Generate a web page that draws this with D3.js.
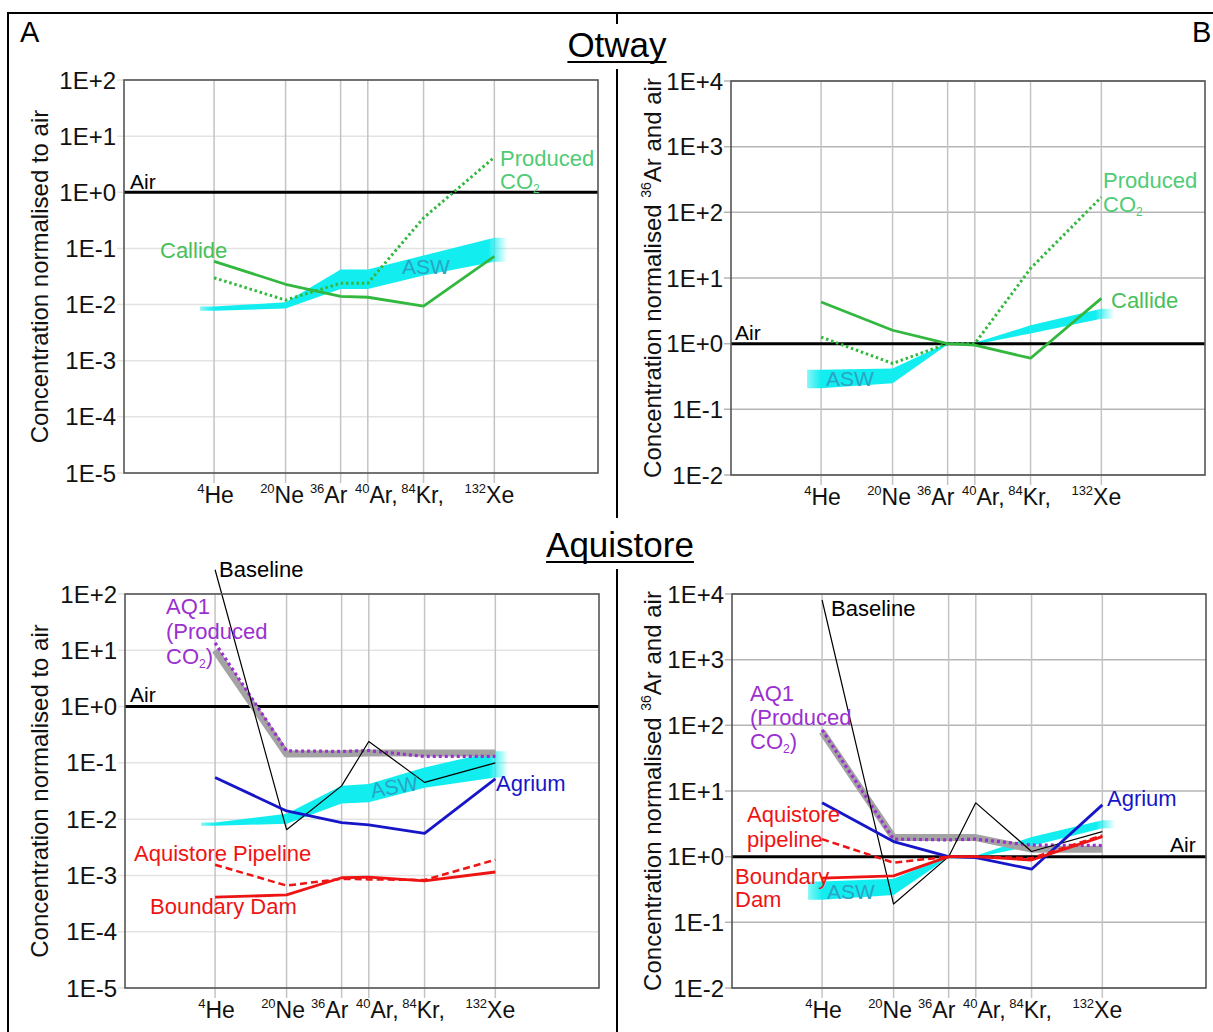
<!DOCTYPE html>
<html><head><meta charset="utf-8">
<script src="https://cdn.jsdelivr.net/npm/d3@7"></script>
<style>
body{margin:0;background:#fff}
svg{display:block}
text{font-family:"Liberation Sans",Arial,Helvetica,sans-serif}
</style>
</head><body>
<svg id="c" width="1213" height="1032"></svg>
<script>
// ---------- categories & ticks ----------
const categories = ["4He","20Ne","36Ar","40Ar","84Kr","132Xe"];
const tickSup = ["4","20","36","40","84","132"];
const tickMain = ["He","Ne","Ar","Ar,","Kr,","Xe"];
const yTicksAir = [1e2,1e1,1e0,1e-1,1e-2,1e-3,1e-4,1e-5];
const yLabelsAir = ["1E+2","1E+1","1E+0","1E-1","1E-2","1E-3","1E-4","1E-5"];
const yTicks36 = [1e4,1e3,1e2,1e1,1e0,1e-1,1e-2];
const yLabels36 = ["1E+4","1E+3","1E+2","1E+1","1E+0","1E-1","1E-2"];

// ---------- Otway, normalised to air ----------
const otwayAirCallide  = [0.059, 0.023, 0.014, 0.0135, 0.0094, 0.072];
const otwayAirProduced = [0.030, 0.012, 0.024, 0.024, 0.35, 4.2];
const otwayAirAswTop    = [0.0092, 0.011, 0.042, 0.042, 0.075, 0.155];
const otwayAirAswBottom = [0.0078, 0.0085, 0.019, 0.019, 0.033, 0.058];

// ---------- Otway, normalised to 36Ar and air ----------
const otway36Callide  = [4.3, 1.6, 1.0, 0.95, 0.6, 4.9];
const otway36Produced = [1.26, 0.5, 1.0, 1.0, 14, 170];
const otway36AswTop    = [0.40, 0.42, 1.03, 1.03, 1.9, 3.4];
const otway36AswBottom = [0.21, 0.25, 0.97, 0.97, 1.43, 2.4];

// ---------- Aquistore, normalised to air ----------
const aquiAirBaseline = [270, 0.0065, 0.039, 0.24, 0.045, 0.10];
const aquiAirAQ1      = [13.5, 0.163, 0.16, 0.165, 0.13, 0.13];
const aquiAirAQ1Band  = [10, 0.143, 0.145, 0.15, 0.15, 0.15];
const aquiAirAgrium   = [0.055, 0.014, 0.0087, 0.0079, 0.0056, 0.052];
const aquiAirPipeline = [0.00155, 0.00066, 0.00087, 0.00085, 0.00083, 0.0019];
const aquiAirBoundary = [0.00041, 0.00045, 0.00091, 0.00093, 0.0008, 0.00115];
const aquiAirAswTop    = [0.0087, 0.0125, 0.039, 0.042, 0.083, 0.16];
const aquiAirAswBottom = [0.0076, 0.0083, 0.019, 0.020, 0.036, 0.055];

// ---------- Aquistore, normalised to 36Ar and air ----------
const aqui36Baseline = [8100, 0.19, 1.0, 6.6, 1.2, 2.4];
const aqui36AQ1      = [85, 1.85, 1.8, 1.85, 1.5, 1.48];
const aqui36AQ1Band  = [80, 1.95, 1.95, 1.95, 1.3, 1.3];
const aqui36Agrium   = [6.6, 1.7, 1.0, 0.97, 0.645, 6.15];
const aqui36Pipeline = [1.85, 0.81, 1.0, 1.0, 0.95, 2.1];
const aqui36Boundary = [0.47, 0.51, 1.0, 1.0, 0.89, 2.02];
const aqui36AswTop    = [0.42, 0.46, 1.03, 1.03, 2.0, 3.6];
const aqui36AswBottom = [0.22, 0.26, 0.97, 0.97, 1.45, 2.7];

// ---------- layout / style ----------
const catSlot = [0, 1, 1.77, 2.15, 2.93, 3.92];
const labelDx = [1.5, -3.5, -12, 8.5, -1, -5];
const C = {
  green: "#33b83f", greenTxt: "#47c05a", prodTxt: "#4fcb75",
  cyan: "#12eef0", aswTxt: "#2ba3c6",
  purple: "#9b30d0", gray: "#a3a3a3", blue: "#1616c8", red: "#ee1414"
};

const svg = d3.select("#c");
const defs = svg.append("defs");

function multiText(g, x, y, parts, color, size, anchor) {
  const t = g.append("text").attr("x", x).attr("y", y)
    .attr("fill", color).attr("font-size", size)
    .attr("text-anchor", anchor || "start");
  let shift = 0;
  parts.forEach(p => {
    if (typeof p === "string") {
      t.append("tspan").attr("dy", shift ? -shift : null).text(p);
      shift = 0;
    } else if (p.sub) {
      t.append("tspan").attr("font-size", size * 0.55).attr("dy", 4).text(p.sub);
      shift = 4;
    }
  });
  return t;
}

function panel(cfg, idx) {
  const g = svg.append("g");
  const x = d3.scaleLinear().domain([-1.26, 5.37]).range([cfg.left, cfg.left + cfg.w]);
  const y = d3.scaleLog().domain(cfg.domain).range([cfg.top + cfg.h, cfg.top]);
  const cx = i => x(catSlot[i]);

  // horizontal grid
  g.append("g").selectAll("line").data(cfg.ticks).join("line")
    .attr("x1", cfg.left - 7).attr("x2", cfg.left + cfg.w)
    .attr("y1", d => y(d)).attr("y2", d => y(d))
    .attr("stroke", cfg.gridColor).attr("stroke-width", 1.5);
  // vertical grid
  g.append("g").selectAll("line").data(categories).join("line")
    .attr("x1", (d, i) => cx(i)).attr("x2", (d, i) => cx(i))
    .attr("y1", cfg.top).attr("y2", cfg.top + cfg.h + 10)
    .attr("stroke", "#c4c4c4").attr("stroke-width", 1.5);

  // y tick labels
  g.append("g").selectAll("text").data(cfg.ticks).join("text")
    .attr("x", cfg.left - 8).attr("y", d => y(d)).attr("dy", "0.36em")
    .attr("text-anchor", "end").attr("font-size", 24).attr("fill", "#111")
    .text((d, i) => cfg.tickLabels[i]);

  // x labels
  const xl = g.append("g").selectAll("text").data(categories).join("text")
    .attr("x", (d, i) => cx(i) + labelDx[i]).attr("y", cfg.top + cfg.h + 30)
    .attr("text-anchor", "middle").attr("fill", "#111");
  xl.append("tspan").attr("font-size", 13).attr("dy", -10).text((d, i) => tickSup[i]);
  xl.append("tspan").attr("font-size", 23).attr("dy", 10).text((d, i) => tickMain[i]);

  // y axis title
  const yt = g.append("text")
    .attr("transform", `translate(${cfg.titleX},${cfg.top + cfg.h / 2}) rotate(-90)`)
    .attr("text-anchor", "middle").attr("dy", "0.35em")
    .attr("font-size", 24).attr("fill", "#111");
  if (cfg.titleSup) {
    yt.append("tspan").text("Concentration normalised ");
    yt.append("tspan").attr("font-size", 14).attr("dy", -10).text("36");
    yt.append("tspan").attr("dy", 10).text("Ar and air");
  } else {
    yt.text("Concentration normalised to air");
  }

  // ASW band
  const gid = "fade" + idx;
  const x0 = cx(0) - 14, x1 = cx(5) + 13;
  const grad = defs.append("linearGradient").attr("id", gid)
    .attr("gradientUnits", "userSpaceOnUse")
    .attr("x1", x0).attr("x2", x1).attr("y1", 0).attr("y2", 0);
  const span = x1 - x0;
  grad.append("stop").attr("offset", 0).attr("stop-color", C.cyan).attr("stop-opacity", 0.5);
  grad.append("stop").attr("offset", (cx(0) - x0) / span).attr("stop-color", C.cyan).attr("stop-opacity", 1);
  grad.append("stop").attr("offset", (cx(5) - 6 - x0) / span).attr("stop-color", C.cyan).attr("stop-opacity", 1);
  grad.append("stop").attr("offset", 1).attr("stop-color", C.cyan).attr("stop-opacity", 0);
  const bandPts = cfg.aswTop.map((t, i) => ({ x: cx(i), t, b: cfg.aswBottom[i] }));
  bandPts.unshift({ x: x0, t: cfg.aswTop[0], b: cfg.aswBottom[0] });
  bandPts.push({ x: x1, t: cfg.aswTop[5], b: cfg.aswBottom[5] });
  g.append("path").datum(bandPts)
    .attr("d", d3.area().x(d => d.x).y0(d => y(d.b)).y1(d => y(d.t)))
    .attr("fill", `url(#${gid})`);

  // air line
  g.append("line").attr("x1", cfg.left).attr("x2", cfg.left + cfg.w)
    .attr("y1", y(1)).attr("y2", y(1)).attr("stroke", "#000").attr("stroke-width", 3);

  // series
  const line = d3.line().x((d, i) => cx(i)).y(d => y(d));
  cfg.series.forEach(s => {
    g.append("path").datum(s.values).attr("d", line)
      .attr("fill", "none").attr("stroke", s.color).attr("stroke-width", s.width)
      .attr("stroke-dasharray", s.dash || null)
      .attr("stroke-linejoin", "round");
  });

  // frame
  g.append("rect").attr("x", cfg.left).attr("y", cfg.top)
    .attr("width", cfg.w).attr("height", cfg.h)
    .attr("fill", "none").attr("stroke", "#555").attr("stroke-width", 1.6);

  // annotations
  cfg.notes.forEach(n => {
    const t = multiText(g, n.x, n.y, n.parts, n.color, n.size || 22, n.anchor);
    if (n.rot) t.attr("transform", `rotate(${n.rot},${n.x},${n.y})`);
  });
}

const panels = [
  { left: 124, top: 80, w: 474, h: 393, domain: [1e-5, 1e2], ticks: yTicksAir, tickLabels: yLabelsAir,
    gridColor: "#e3e3e3", titleX: 40, titleSup: false,
    aswTop: otwayAirAswTop, aswBottom: otwayAirAswBottom,
    series: [
      { values: otwayAirProduced, color: C.green, width: 3, dash: "2.5,2.8" },
      { values: otwayAirCallide, color: C.green, width: 2.8 }
    ],
    notes: [
      { parts: ["Air"], x: 130, y: 189, color: "#000", size: 21 },
      { parts: ["Callide"], x: 160, y: 258, color: C.greenTxt },
      { parts: ["Produced"], x: 500, y: 166, color: C.prodTxt },
      { parts: ["CO", { sub: "2" }], x: 500, y: 189, color: C.prodTxt },
      { parts: ["ASW"], x: 402, y: 274, color: C.aswTxt, size: 21 }
    ] },
  { left: 731, top: 81, w: 474, h: 394, domain: [1e-2, 1e4], ticks: yTicks36, tickLabels: yLabels36,
    gridColor: "#b5b5b5", titleX: 653, titleSup: true,
    aswTop: otway36AswTop, aswBottom: otway36AswBottom,
    series: [
      { values: otway36Produced, color: C.green, width: 3, dash: "2.5,2.8" },
      { values: otway36Callide, color: C.green, width: 2.8 }
    ],
    notes: [
      { parts: ["Air"], x: 735, y: 340, color: "#000", size: 21 },
      { parts: ["Produced"], x: 1103, y: 188, color: C.prodTxt },
      { parts: ["CO", { sub: "2" }], x: 1103, y: 212, color: C.prodTxt },
      { parts: ["Callide"], x: 1111, y: 308, color: C.greenTxt },
      { parts: ["ASW"], x: 826, y: 386, color: C.aswTxt, size: 21 }
    ] },
  { left: 125, top: 594, w: 474, h: 394, domain: [1e-5, 1e2], ticks: yTicksAir, tickLabels: yLabelsAir,
    gridColor: "#e3e3e3", titleX: 40, titleSup: false,
    aswTop: aquiAirAswTop, aswBottom: aquiAirAswBottom,
    series: [
      { values: aquiAirAQ1Band, color: C.gray, width: 7 },
      { values: aquiAirAQ1, color: C.purple, width: 3.2, dash: "3,3" },
      { values: aquiAirBaseline, color: "#000", width: 1.2 },
      { values: aquiAirAgrium, color: C.blue, width: 2.8 },
      { values: aquiAirPipeline, color: C.red, width: 2.5, dash: "7,4" },
      { values: aquiAirBoundary, color: C.red, width: 2.8 }
    ],
    notes: [
      { parts: ["Baseline"], x: 219, y: 577, color: "#000" },
      { parts: ["AQ1"], x: 166, y: 614, color: C.purple },
      { parts: ["(Produced"], x: 166, y: 639, color: C.purple },
      { parts: ["CO", { sub: "2" }, ")"], x: 166, y: 664, color: C.purple },
      { parts: ["Air"], x: 130, y: 702, color: "#000", size: 21 },
      { parts: ["ASW"], x: 372, y: 798, color: C.aswTxt, size: 21, rot: -10 },
      { parts: ["Agrium"], x: 496, y: 791, color: C.blue },
      { parts: ["Aquistore Pipeline"], x: 134, y: 861, color: C.red },
      { parts: ["Boundary Dam"], x: 150, y: 914, color: C.red }
    ] },
  { left: 732, top: 594, w: 474, h: 394, domain: [1e-2, 1e4], ticks: yTicks36, tickLabels: yLabels36,
    gridColor: "#b5b5b5", titleX: 653, titleSup: true,
    aswTop: aqui36AswTop, aswBottom: aqui36AswBottom,
    series: [
      { values: aqui36AQ1Band, color: C.gray, width: 7 },
      { values: aqui36AQ1, color: C.purple, width: 3.2, dash: "3,3" },
      { values: aqui36Baseline, color: "#000", width: 1.2 },
      { values: aqui36Agrium, color: C.blue, width: 2.8 },
      { values: aqui36Pipeline, color: C.red, width: 2.5, dash: "7,4" },
      { values: aqui36Boundary, color: C.red, width: 2.8 }
    ],
    notes: [
      { parts: ["Baseline"], x: 831, y: 616, color: "#000" },
      { parts: ["AQ1"], x: 750, y: 701, color: C.purple },
      { parts: ["(Produced"], x: 750, y: 725, color: C.purple },
      { parts: ["CO", { sub: "2" }, ")"], x: 750, y: 749, color: C.purple },
      { parts: ["Agrium"], x: 1107, y: 806, color: C.blue },
      { parts: ["Aquistore"], x: 747, y: 822, color: C.red },
      { parts: ["pipeline"], x: 747, y: 847, color: C.red },
      { parts: ["Boundary"], x: 735, y: 884, color: C.red },
      { parts: ["Dam"], x: 735, y: 907, color: C.red },
      { parts: ["ASW"], x: 827, y: 899, color: C.aswTxt, size: 21 },
      { parts: ["Air"], x: 1170, y: 852, color: "#000", size: 21 }
    ] }
];

// outer frame & dividers
svg.append("path").attr("d", "M8,1032 V13 H1213").attr("fill", "none")
  .attr("stroke", "#000").attr("stroke-width", 2);
[[13, 24], [69, 518], [569, 1032]].forEach(s =>
  svg.append("line").attr("x1", 617).attr("x2", 617).attr("y1", s[0]).attr("y2", s[1])
    .attr("stroke", "#000").attr("stroke-width", 2));

panels.forEach((p, i) => panel(p, i));

// panel letters and section titles
svg.append("text").attr("x", 20).attr("y", 42).attr("font-size", 29).attr("fill", "#000").text("A");
svg.append("text").attr("x", 1192).attr("y", 42).attr("font-size", 29).attr("fill", "#000").text("B");
[["Otway", 617, 57], ["Aquistore", 620, 557]].forEach(([txt, x, yb]) => {
  const t = svg.append("text").attr("x", x).attr("y", yb).attr("text-anchor", "middle")
    .attr("font-size", 35).attr("fill", "#000").text(txt);
  const w = t.node().getComputedTextLength();
  svg.append("line").attr("x1", x - w / 2).attr("x2", x + w / 2)
    .attr("y1", yb + 5).attr("y2", yb + 5).attr("stroke", "#000").attr("stroke-width", 1.8);
});
</script>
</body></html>
